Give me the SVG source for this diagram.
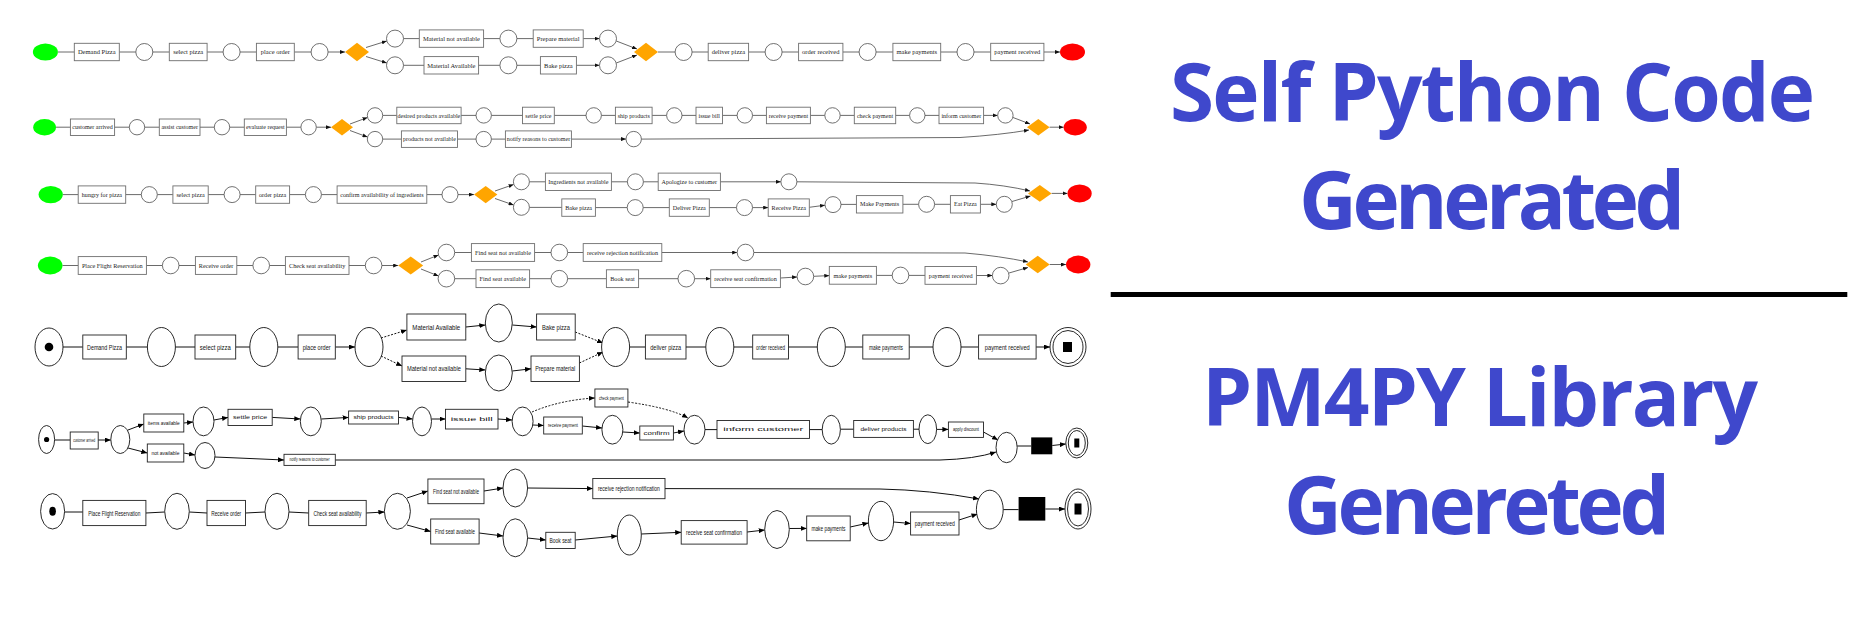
<svg xmlns="http://www.w3.org/2000/svg" width="1858" height="619" viewBox="0 0 1858 619">
<defs>
<style>
.pl{fill:#fff;stroke:#4d4d4d;stroke-width:0.8}
.tr{fill:#fff;stroke:#6e6e6e;stroke-width:0.9}
.gw{fill:#FFA500}
.st{fill:#00FF00}
.en{fill:#FF0000}
.lb{font-family:"Liberation Serif",serif;fill:#222;text-anchor:middle}
.r1 .lb{font-size:6.5px}.r2 .lb{font-size:6px}.r3 .lb{font-size:6.1px}.r4 .lb{font-size:6.2px}
.e{fill:none;stroke:#444;stroke-width:0.8;marker-end:url(#a)}
.pp{fill:#fff;stroke:#111;stroke-width:0.9}
.pt{fill:#fff;stroke:#222;stroke-width:0.9}
.pb{font-family:"Liberation Sans",sans-serif;font-size:7px;fill:#111;text-anchor:middle}
.sm{font-size:4.6px}
.f{fill:none;stroke:#111;stroke-width:1;marker-end:url(#b)}
.d{stroke-dasharray:2 1.5}
.big{font-family:"Open Sans",sans-serif;font-weight:bold;font-size:80px;fill:#3F48CC}
</style>
<marker id="a" markerUnits="userSpaceOnUse" markerWidth="5" markerHeight="4" refX="5" refY="2" orient="auto"><path d="M0,0L5,2L0,4z" fill="#111"/></marker>
<marker id="b" markerUnits="userSpaceOnUse" markerWidth="6" markerHeight="5" refX="6" refY="2.5" orient="auto"><path d="M0,0L6,2.5L0,5z" fill="#000"/></marker>
</defs>
<rect width="1858" height="619" fill="#fff"/>

<g id="connectors">
<!-- row 1 -->
<path class="e" d="M57.9,52H74.3M119.3,52H135.8M152.8,52H169.3M207.1,52H223.1M240.1,52H256.4M294.3,52H311.1M328.1,52H345"/>
<path class="e" d="M366,47.5L386.8,41"/><path class="e" d="M366,56.5L386.8,63"/>
<path class="e" d="M403.5,38.6H419.3M483.6,38.6H499.9M516.9,38.6H533.2M583.2,38.6H599.5"/>
<path class="e" d="M403.5,65.3H424M478.6,65.3H499.9M516.9,65.3H540.4M576.4,65.3H599.5"/>
<path class="e" d="M616.3,41L637,49"/><path class="e" d="M616.3,63L637,55"/>
<path class="e" d="M658,52H675.1M692.1,52H708.2M748.6,52H765.1M782.1,52H798.6M842.9,52H859.1M876.1,52H892.9M940.7,52H957M974,52H990.7M1043.9,52H1060"/>
<!-- row 2 -->
<path class="e" d="M56,127.2H70.4M114.6,127.2H129.3M144.7,127.2H159.3M200,127.2H214.3M229.7,127.2H244.3M286.4,127.2H300.9M316.3,127.2H331"/>
<path class="e" d="M350,124L367.5,117.5"/><path class="e" d="M350,130.5L367.5,137"/>
<path class="e" d="M382.7,115.4H396.8M461.1,115.4H476M491.4,115.4H522.5M554.3,115.4H586M601.4,115.4H615.4M652.1,115.4H666.6M682,115.4H696M722.5,115.4H737.1M752.5,115.4H766.4M810.4,115.4H824.8M840.2,115.4H854.3M895.7,115.4H909.6M925,115.4H939M983.6,115.4H997.7"/>
<path class="e" d="M382.7,139.1H401.4M457.5,139.1H476M491.4,139.1H505.4M571.4,139.1H626"/>
<path class="e" d="M1013,117.5L1030,124"/>
<path class="e" d="M641.4,139.1L960,137.5Q1000,135 1029,130"/>
<path class="e" d="M1049.6,127.2H1063.6"/>
<!-- row 3 -->
<path class="e" d="M62.8,194.6H78.2M125.7,194.6H141.3M157.3,194.6H172.9M208.2,194.6H224.1M240.1,194.6H255.7M289.6,194.6H305.4M321.4,194.6H337.1M426.8,194.6H442M458,194.6H474"/>
<path class="e" d="M495,191L513.6,184.5"/><path class="e" d="M495,198.5L513.6,205"/>
<path class="e" d="M529.4,181.8H545.4M611.4,181.8H627.4M643.4,181.8H658.2M720.4,181.8H780.9"/>
<path class="e" d="M796.9,181.8L975,183Q1005,185 1030,191"/>
<path class="e" d="M529.4,207.4H561.8M595.4,207.6H627.2M643.2,207.6H669.3M709.3,207.6H736.5M752.5,207.6H768.2"/>
<path class="e" d="M809.3,207.3L825,205.2"/>
<path class="e" d="M841,204.4H856.4M902.9,204.3H918.6M934.6,204.3H950.4M980.4,204.3H996.3"/>
<path class="e" d="M1012,201.5L1030.5,196"/>
<path class="e" d="M1051.6,193.4H1067.5"/>
<!-- row 4 -->
<path class="e" d="M62.5,265.5H78.2M146.4,265.5H162.4M179,265.5H195.4M236.8,265.5H252.9M269.5,265.5H285.4M349,265.5H365.3M381.9,265.5H398.2"/>
<path class="e" d="M421,262L438.5,255"/><path class="e" d="M421,269L438.5,276"/>
<path class="e" d="M454.7,252.5H471.4M534.6,252.5H551M567.6,252.5H583.2M661.8,252.5H737.2"/>
<path class="e" d="M454.7,278.7H476M529.6,278.7H551M567.6,278.7H606.4M638.6,278.7H678M694.6,278.7H710.7"/>
<path class="e" d="M753.8,252.5L965,253Q1000,256 1028,262"/>
<path class="e" d="M780.4,278L797.1,277"/><path class="e" d="M813.7,276.3L829.3,275.6"/>
<path class="e" d="M876.4,275.4H892.2M908.8,275.4H925M976.4,275.5H992.4"/>
<path class="e" d="M1009,273L1028,267.5"/>
<path class="e" d="M1049.7,264.5H1066"/>
<!-- pm4py row 1 -->
<path class="f" d="M63,347H82.8M126.3,347H147.4M175.4,347H195M235.7,347H249.8M277.8,347H298.1M335.3,347H355"/>
<path class="f d" d="M381,338L406.9,330"/><path class="f d" d="M381,356L402,366"/>
<path class="f" d="M465.8,327L485.3,325"/><path class="f" d="M465.8,368.8L485.3,370"/>
<path class="f" d="M512.3,325L536.6,327"/><path class="f" d="M512.3,371L531,368.8"/>
<path class="f d" d="M575.2,332L603,343"/><path class="f d" d="M579.4,363L603,352"/>
<path class="f" d="M629.6,347H645.4M686,347H705.8M733.8,347H752.7M788.5,347H817.3M845.3,347H862.8M909.2,347H933M961,347H978.6M1036.1,347H1050"/>
<!-- pm4py row 2 -->
<path class="f" d="M54.6,440H70.2M98.2,440H110.8"/>
<path class="f" d="M128,430L143.8,424"/><path class="f" d="M128,448L147.3,453"/>
<path class="f" d="M183.8,423L193,422"/><path class="f" d="M183.8,453L195,455"/>
<path class="f" d="M214,420L228,417.4"/><path class="f" d="M272.2,417.4L300.3,419"/>
<path class="f" d="M321.3,419L348.6,417.4"/><path class="f" d="M398.5,417.4L412.5,419"/>
<path class="f" d="M431.5,419H445.5"/><path class="f" d="M498,419L512,420"/>
<path class="f d" d="M532,412Q560,400 594.9,398"/>
<path class="f" d="M533,425L543.7,425.5"/><path class="f" d="M582.3,426L602,428"/>
<path class="f" d="M623,432L639.8,433"/><path class="f" d="M673.4,433L684,431"/>
<path class="f d" d="M627.9,402Q670,408 688,418"/>
<path class="f" d="M705,429.6H717M809.5,429.6H822.2M840.4,429.2H853.7M913.4,429.2H919M936.6,429.4H948.4"/>
<path class="f" d="M983.5,432L998,440"/>
<path class="f" d="M215,457L284,460"/>
<path class="f" d="M335.3,460L940,460Q975,459 996,452"/>
<path class="f" d="M1017.2,446H1031.2M1052.3,445.5L1065.8,444"/>
<!-- pm4py row 3 -->
<path class="f" d="M64.6,512H82.8M145.9,513L164.7,512M189.3,512L207,513M245.5,513L265,512M289,512L308.7,513M366.2,513L384.4,512"/>
<path class="f" d="M407,498L427.9,491"/><path class="f" d="M407,525L430.7,531.5"/>
<path class="f" d="M484,491L503,488"/><path class="f" d="M479.1,533L503,536"/>
<path class="f" d="M527.6,488L592.8,488.6"/>
<path class="f" d="M527.6,538L545.8,540"/><path class="f" d="M575.2,540L617.3,536"/>
<path class="f" d="M641.2,534L681.2,532.3"/><path class="f" d="M747.1,532L764.7,530"/>
<path class="f" d="M789.3,528.5L806.7,528.4"/><path class="f" d="M850.2,527L868.4,523"/>
<path class="f" d="M893.6,522L910.6,523.5"/><path class="f" d="M959,520L977.5,514"/>
<path class="f" d="M665,488.6L880,489Q930,490 979,499"/>
<path class="f" d="M1003.2,509.6H1018.6M1045.3,509H1065"/>
</g>

<!-- ================= Self Python row 1 ================= -->
<g class="r1">
<g id="r1-start"><ellipse class="st" cx="45.4" cy="52" rx="12.5" ry="8.6"/></g>
<g id="r1-demand"><rect class="tr" x="74.3" y="43.3" width="45" height="17.4"/><text class="lb" x="96.8" y="54.3">Demand Pizza</text></g>
<g id="r1-p1"><circle class="pl" cx="144.3" cy="52" r="8.5"/></g>
<g id="r1-select"><rect class="tr" x="169.3" y="43.3" width="37.8" height="17.4"/><text class="lb" x="188.2" y="54.3">select pizza</text></g>
<g id="r1-p2"><circle class="pl" cx="231.6" cy="52" r="8.5"/></g>
<g id="r1-place"><rect class="tr" x="256.4" y="43.3" width="37.9" height="17.4"/><text class="lb" x="275.35" y="54.3">place order</text></g>
<g id="r1-p3"><circle class="pl" cx="319.6" cy="52" r="8.5"/></g>
<g id="r1-x1"><polygon class="gw" points="345,52 357,42.7 369,52 357,61.3"/></g>
<g id="r1-p4"><circle class="pl" cx="395" cy="38.6" r="8.5"/></g>
<g id="r1-p5"><circle class="pl" cx="395" cy="65.3" r="8.5"/></g>
<g id="r1-matna"><rect class="tr" x="419.3" y="29.9" width="64.3" height="17.4"/><text class="lb" x="451.45" y="40.9">Material not available</text></g>
<g id="r1-mata"><rect class="tr" x="424" y="56.6" width="54.6" height="17.4"/><text class="lb" x="451.3" y="67.6">Material Available</text></g>
<g id="r1-p6"><circle class="pl" cx="508.4" cy="38.6" r="8.5"/></g>
<g id="r1-p7"><circle class="pl" cx="508.4" cy="65.3" r="8.5"/></g>
<g id="r1-prep"><rect class="tr" x="533.2" y="29.9" width="50" height="17.4"/><text class="lb" x="558.2" y="40.9">Prepare material</text></g>
<g id="r1-bake"><rect class="tr" x="540.4" y="56.6" width="36" height="17.4"/><text class="lb" x="558.4" y="67.6">Bake pizza</text></g>
<g id="r1-p8"><circle class="pl" cx="608" cy="38.6" r="8.5"/></g>
<g id="r1-p9"><circle class="pl" cx="608" cy="65.3" r="8.5"/></g>
<g id="r1-x2"><polygon class="gw" points="634,52 646,42.7 658,52 646,61.3"/></g>
<g id="r1-p10"><circle class="pl" cx="683.6" cy="52" r="8.5"/></g>
<g id="r1-deliver"><rect class="tr" x="708.2" y="43.3" width="40.4" height="17.4"/><text class="lb" x="728.4" y="54.3">deliver pizza</text></g>
<g id="r1-p11"><circle class="pl" cx="773.6" cy="52" r="8.5"/></g>
<g id="r1-order"><rect class="tr" x="798.6" y="43.3" width="44.3" height="17.4"/><text class="lb" x="820.75" y="54.3">order received</text></g>
<g id="r1-p12"><circle class="pl" cx="867.6" cy="52" r="8.5"/></g>
<g id="r1-pay"><rect class="tr" x="892.9" y="43.3" width="47.8" height="17.4"/><text class="lb" x="916.8" y="54.3">make payments</text></g>
<g id="r1-p13"><circle class="pl" cx="965.5" cy="52" r="8.5"/></g>
<g id="r1-payrec"><rect class="tr" x="990.7" y="43.3" width="53.2" height="17.4"/><text class="lb" x="1017.3" y="54.3">payment received</text></g>
<g id="r1-end"><ellipse class="en" cx="1072.5" cy="52" rx="12.5" ry="8.6"/></g>
</g>

<!-- ================= Self Python row 2 ================= -->
<g class="r2">
<g id="r2-start"><ellipse class="st" cx="44.6" cy="127.2" rx="11.4" ry="8.2"/></g>
<g id="r2-arrived"><rect class="tr" x="70.4" y="119" width="44.2" height="16.5"/><text class="lb" x="92.5" y="129.4">customer arrived</text></g>
<g id="r2-p1"><circle class="pl" cx="137" cy="127.2" r="7.7"/></g>
<g id="r2-assist"><rect class="tr" x="159.3" y="119" width="40.7" height="16.5"/><text class="lb" x="179.65" y="129.4">assist customer</text></g>
<g id="r2-p2"><circle class="pl" cx="222" cy="127.2" r="7.7"/></g>
<g id="r2-eval"><rect class="tr" x="244.3" y="119" width="42.1" height="16.5"/><text class="lb" x="265.35" y="129.4">evaluate request</text></g>
<g id="r2-p3"><circle class="pl" cx="308.6" cy="127.2" r="7.7"/></g>
<g id="r2-x1"><polygon class="gw" points="331,127.2 342,119 353,127.2 342,135.4"/></g>
<g id="r2-p4"><circle class="pl" cx="375" cy="115.4" r="7.7"/></g>
<g id="r2-p5"><circle class="pl" cx="375" cy="139.1" r="7.7"/></g>
<g id="r2-desired"><rect class="tr" x="396.8" y="107.2" width="64.3" height="16.5"/><text class="lb" x="428.95" y="117.6">desired products available</text></g>
<g id="r2-notavail"><rect class="tr" x="401.4" y="130.9" width="56.1" height="16.5"/><text class="lb" x="429.45" y="141.3">products not available</text></g>
<g id="r2-p6"><circle class="pl" cx="483.7" cy="115.4" r="7.7"/></g>
<g id="r2-p7"><circle class="pl" cx="483.7" cy="139.1" r="7.7"/></g>
<g id="r2-settle"><rect class="tr" x="522.5" y="107.2" width="31.8" height="16.5"/><text class="lb" x="538.4" y="117.6">settle price</text></g>
<g id="r2-p8"><circle class="pl" cx="593.7" cy="115.4" r="7.7"/></g>
<g id="r2-ship"><rect class="tr" x="615.4" y="107.2" width="36.7" height="16.5"/><text class="lb" x="633.75" y="117.6">ship products</text></g>
<g id="r2-p9"><circle class="pl" cx="674.3" cy="115.4" r="7.7"/></g>
<g id="r2-bill"><rect class="tr" x="696" y="107.2" width="26.5" height="16.5"/><text class="lb" x="709.25" y="117.6">issue bill</text></g>
<g id="r2-p10"><circle class="pl" cx="744.8" cy="115.4" r="7.7"/></g>
<g id="r2-recv"><rect class="tr" x="766.4" y="107.2" width="44" height="16.5"/><text class="lb" x="788.4" y="117.6">receive payment</text></g>
<g id="r2-p11"><circle class="pl" cx="832.5" cy="115.4" r="7.7"/></g>
<g id="r2-check"><rect class="tr" x="854.3" y="107.2" width="41.4" height="16.5"/><text class="lb" x="875" y="117.6">check payment</text></g>
<g id="r2-p12"><circle class="pl" cx="917.3" cy="115.4" r="7.7"/></g>
<g id="r2-inform"><rect class="tr" x="939" y="107.2" width="44.6" height="16.5"/><text class="lb" x="961.3" y="117.6">inform customer</text></g>
<g id="r2-p13"><circle class="pl" cx="1005.4" cy="115.4" r="7.7"/></g>
<g id="r2-notify"><rect class="tr" x="505.4" y="130.9" width="66" height="16.5"/><text class="lb" x="538.4" y="141.3">notify reasons to customer</text></g>
<g id="r2-p14"><circle class="pl" cx="633.7" cy="139.1" r="7.7"/></g>
<g id="r2-x2"><polygon class="gw" points="1027,127.2 1038.3,119 1049.6,127.2 1038.3,135.4"/></g>
<g id="r2-end"><ellipse class="en" cx="1075.2" cy="127.2" rx="11.6" ry="8.2"/></g>
</g>

<!-- ================= Self Python row 3 ================= -->
<g class="r3">
<g id="r3-start"><ellipse class="st" cx="50.7" cy="194.6" rx="12.1" ry="8.6"/></g>
<g id="r3-hungry"><rect class="tr" x="78.2" y="185.9" width="47.5" height="17.4"/><text class="lb" x="101.95" y="196.7">hungry for pizza</text></g>
<g id="r3-p1"><circle class="pl" cx="149.3" cy="194.6" r="8"/></g>
<g id="r3-select"><rect class="tr" x="172.9" y="185.9" width="35.3" height="17.4"/><text class="lb" x="190.55" y="196.7">select pizza</text></g>
<g id="r3-p2"><circle class="pl" cx="232.1" cy="194.6" r="8"/></g>
<g id="r3-order"><rect class="tr" x="255.7" y="185.9" width="33.9" height="17.4"/><text class="lb" x="272.65" y="196.7">order pizza</text></g>
<g id="r3-p3"><circle class="pl" cx="313.4" cy="194.6" r="8"/></g>
<g id="r3-confirm"><rect class="tr" x="337.1" y="185.9" width="89.7" height="17.4"/><text class="lb" x="381.95" y="196.7">confirm availability of ingredients</text></g>
<g id="r3-p4"><circle class="pl" cx="450" cy="194.6" r="8"/></g>
<g id="r3-x1"><polygon class="gw" points="474,194.6 485.7,186 497.4,194.6 485.7,203.2"/></g>
<g id="r3-p5"><circle class="pl" cx="521.4" cy="181.8" r="8"/></g>
<g id="r3-p6"><circle class="pl" cx="521.4" cy="207.3" r="8"/></g>
<g id="r3-ingna"><rect class="tr" x="545.4" y="173.1" width="66" height="17.4"/><text class="lb" x="578.4" y="183.9">Ingredients not available</text></g>
<g id="r3-p7"><circle class="pl" cx="635.4" cy="181.8" r="8"/></g>
<g id="r3-apol"><rect class="tr" x="658.2" y="173.1" width="62.2" height="17.4"/><text class="lb" x="689.3" y="183.9">Apologize to customer</text></g>
<g id="r3-p8"><circle class="pl" cx="788.9" cy="181.8" r="8"/></g>
<g id="r3-bake"><rect class="tr" x="561.8" y="198.9" width="33.6" height="17.4"/><text class="lb" x="578.6" y="209.7">Bake pizza</text></g>
<g id="r3-p9"><circle class="pl" cx="635.2" cy="207.6" r="8"/></g>
<g id="r3-deliver"><rect class="tr" x="669.3" y="198.9" width="40" height="17.4"/><text class="lb" x="689.3" y="209.7">Deliver Pizza</text></g>
<g id="r3-p10"><circle class="pl" cx="744.5" cy="207.6" r="8"/></g>
<g id="r3-receive"><rect class="tr" x="768.2" y="198.9" width="41.1" height="17.4"/><text class="lb" x="788.75" y="209.7">Receive Pizza</text></g>
<g id="r3-p11"><circle class="pl" cx="833" cy="204.6" r="8"/></g>
<g id="r3-pay"><rect class="tr" x="856.4" y="195.6" width="46.5" height="17.4"/><text class="lb" x="879.65" y="206.4">Make Payments</text></g>
<g id="r3-p12"><circle class="pl" cx="926.6" cy="204.3" r="8"/></g>
<g id="r3-eat"><rect class="tr" x="950.4" y="195.6" width="30" height="17.4"/><text class="lb" x="965.4" y="206.4">Eat Pizza</text></g>
<g id="r3-p13"><circle class="pl" cx="1004.3" cy="204.3" r="8"/></g>
<g id="r3-x2"><polygon class="gw" points="1028,193.4 1039.8,185 1051.6,193.4 1039.8,201.8"/></g>
<g id="r3-end"><ellipse class="en" cx="1079.6" cy="193.4" rx="12.1" ry="9"/></g>
</g>

<!-- ================= Self Python row 4 ================= -->
<g class="r4">
<g id="r4-start"><ellipse class="st" cx="50.2" cy="265.5" rx="12.3" ry="8.9"/></g>
<g id="r4-placeflight"><rect class="tr" x="78.2" y="256.6" width="68.2" height="17.8"/><text class="lb" x="112.3" y="267.7">Place Flight Reservation</text></g>
<g id="r4-p1"><circle class="pl" cx="170.7" cy="265.5" r="8.3"/></g>
<g id="r4-recv"><rect class="tr" x="195.4" y="256.6" width="41.4" height="17.8"/><text class="lb" x="216.1" y="267.7">Receive order</text></g>
<g id="r4-p2"><circle class="pl" cx="261.2" cy="265.5" r="8.3"/></g>
<g id="r4-check"><rect class="tr" x="285.4" y="256.6" width="63.6" height="17.8"/><text class="lb" x="317.2" y="267.7">Check seat availability</text></g>
<g id="r4-p3"><circle class="pl" cx="373.6" cy="265.5" r="8.3"/></g>
<g id="r4-x1"><polygon class="gw" points="398.2,265.5 410.7,256.6 423.2,265.5 410.7,274.4"/></g>
<g id="r4-p4"><circle class="pl" cx="446.4" cy="252.5" r="8.3"/></g>
<g id="r4-p5"><circle class="pl" cx="446.4" cy="278.7" r="8.3"/></g>
<g id="r4-fsna"><rect class="tr" x="471.4" y="243.6" width="63.2" height="17.8"/><text class="lb" x="503" y="254.7">Find seat not available</text></g>
<g id="r4-fsa"><rect class="tr" x="476" y="269.8" width="53.6" height="17.8"/><text class="lb" x="502.8" y="280.9">Find seat available</text></g>
<g id="r4-p6"><circle class="pl" cx="559.3" cy="252.5" r="8.3"/></g>
<g id="r4-p7"><circle class="pl" cx="559.3" cy="278.7" r="8.3"/></g>
<g id="r4-reject"><rect class="tr" x="583.2" y="243.6" width="78.6" height="17.8"/><text class="lb" x="622.5" y="254.7">receive rejection notification</text></g>
<g id="r4-p8"><circle class="pl" cx="745.5" cy="252.5" r="8.3"/></g>
<g id="r4-book"><rect class="tr" x="606.4" y="269.8" width="32.2" height="17.8"/><text class="lb" x="622.5" y="280.9">Book seat</text></g>
<g id="r4-p9"><circle class="pl" cx="686.3" cy="278.7" r="8.3"/></g>
<g id="r4-conf"><rect class="tr" x="710.7" y="269.8" width="69.7" height="17.8"/><text class="lb" x="745.55" y="280.9">receive seat confirmation</text></g>
<g id="r4-p10"><circle class="pl" cx="805.4" cy="276.5" r="8.3"/></g>
<g id="r4-pay"><rect class="tr" x="829.3" y="266.4" width="47.1" height="17.8"/><text class="lb" x="852.85" y="277.5">make payments</text></g>
<g id="r4-p11"><circle class="pl" cx="900.5" cy="275.4" r="8.3"/></g>
<g id="r4-payrec"><rect class="tr" x="925" y="266.5" width="51.4" height="17.8"/><text class="lb" x="950.7" y="277.6">payment received</text></g>
<g id="r4-p12"><circle class="pl" cx="1000.7" cy="275.6" r="8.3"/></g>
<g id="r4-x2"><polygon class="gw" points="1025.7,264.5 1037.7,255.8 1049.7,264.5 1037.7,273.2"/></g>
<g id="r4-end"><ellipse class="en" cx="1078.2" cy="264.5" rx="12.2" ry="8.9"/></g>
</g>

<!-- ================= PM4PY row 1 ================= -->
<g id="m1-start"><ellipse class="pp" cx="49" cy="347" rx="14" ry="19"/><circle cx="49" cy="347" r="4.3" fill="#000"/></g>
<g id="m1-demand"><rect class="pt" x="82.8" y="335" width="43.5" height="24"/><text class="pb" x="104.5" y="349.5" textLength="35" lengthAdjust="spacingAndGlyphs">Demand Pizza</text></g>
<g id="m1-p1"><ellipse class="pp" cx="161.4" cy="347" rx="14" ry="19.5"/></g>
<g id="m1-select"><rect class="pt" x="195" y="335" width="40.7" height="24"/><text class="pb" x="215.3" y="349.5" textLength="31" lengthAdjust="spacingAndGlyphs">select pizza</text></g>
<g id="m1-p2"><ellipse class="pp" cx="263.8" cy="347" rx="14" ry="19.5"/></g>
<g id="m1-place"><rect class="pt" x="298.1" y="335" width="37.2" height="24"/><text class="pb" x="316.7" y="349.5" textLength="28" lengthAdjust="spacingAndGlyphs">place order</text></g>
<g id="m1-p3"><ellipse class="pp" cx="369" cy="347" rx="14" ry="19.5"/></g>
<g id="m1-mata"><rect class="pt" x="406.9" y="314" width="58.9" height="26"/><text class="pb" x="436.3" y="329.5" textLength="48" lengthAdjust="spacingAndGlyphs">Material Available</text></g>
<g id="m1-matna"><rect class="pt" x="402" y="356" width="63.8" height="25.5"/><text class="pb" x="433.9" y="371.3" textLength="54" lengthAdjust="spacingAndGlyphs">Material not available</text></g>
<g id="m1-p4"><ellipse class="pp" cx="498.8" cy="323" rx="13.5" ry="19"/></g>
<g id="m1-p5"><ellipse class="pp" cx="498.8" cy="373" rx="13.5" ry="18"/></g>
<g id="m1-bake"><rect class="pt" x="536.6" y="314" width="38.6" height="26"/><text class="pb" x="555.9" y="329.5" textLength="28" lengthAdjust="spacingAndGlyphs">Bake pizza</text></g>
<g id="m1-prep"><rect class="pt" x="531" y="356" width="48.4" height="25.5"/><text class="pb" x="555.2" y="371.3" textLength="40" lengthAdjust="spacingAndGlyphs">Prepare material</text></g>
<g id="m1-p6"><ellipse class="pp" cx="615.6" cy="347" rx="14" ry="19.5"/></g>
<g id="m1-deliver"><rect class="pt" x="645.4" y="335" width="40.6" height="24"/><text class="pb" x="665.7" y="349.5" textLength="31" lengthAdjust="spacingAndGlyphs">deliver pizza</text></g>
<g id="m1-p7"><ellipse class="pp" cx="719.8" cy="347" rx="14" ry="19.5"/></g>
<g id="m1-order"><rect class="pt" x="752.7" y="335" width="35.8" height="24"/><text class="pb" x="770.6" y="349.5" textLength="29" lengthAdjust="spacingAndGlyphs">order received</text></g>
<g id="m1-p8"><ellipse class="pp" cx="831.3" cy="347" rx="14" ry="19.5"/></g>
<g id="m1-pay"><rect class="pt" x="862.8" y="335" width="46.4" height="24"/><text class="pb" x="886" y="349.5" textLength="34" lengthAdjust="spacingAndGlyphs">make payments</text></g>
<g id="m1-p9"><ellipse class="pp" cx="947" cy="347" rx="14" ry="19.5"/></g>
<g id="m1-payrec"><rect class="pt" x="978.6" y="335" width="57.5" height="24"/><text class="pb" x="1007.3" y="349.5" textLength="45" lengthAdjust="spacingAndGlyphs">payment received</text></g>
<g id="m1-end"><ellipse class="pp" cx="1068" cy="347" rx="18" ry="19.5"/><ellipse class="pp" cx="1068" cy="347" rx="15" ry="16.5"/><rect x="1063" y="342" width="9" height="10" fill="#000"/></g>

<!-- ================= PM4PY row 2 ================= -->
<g id="m2-start"><ellipse class="pp" cx="46.6" cy="439.5" rx="8" ry="14"/><circle cx="46.6" cy="439.5" r="2.6" fill="#000"/></g>
<g id="m2-t1"><rect class="pt" x="70.2" y="432" width="28" height="17"/><text class="pb sm" x="84.2" y="442.3" textLength="22" lengthAdjust="spacingAndGlyphs">customer arrived</text></g>
<g id="m2-p1"><ellipse class="pp" cx="120.3" cy="439.5" rx="9.5" ry="14"/></g>
<g id="m2-t2"><rect class="pt" x="143.8" y="414" width="40" height="18"/><text class="pb sm" x="163.8" y="424.6" textLength="32" lengthAdjust="spacingAndGlyphs">items available</text></g>
<g id="m2-t3"><rect class="pt" x="147.3" y="444" width="36.5" height="18"/><text class="pb sm" x="165.5" y="454.6" textLength="28" lengthAdjust="spacingAndGlyphs">not available</text></g>
<g id="m2-p2"><ellipse class="pp" cx="203.5" cy="421.4" rx="10.5" ry="14.4"/></g>
<g id="m2-p3"><ellipse class="pp" cx="205" cy="455.5" rx="10" ry="13"/></g>
<g id="m2-t4"><rect class="pt" x="228" y="409.3" width="44.2" height="16.2"/><text class="pb sm" x="250.1" y="419" textLength="34" lengthAdjust="spacingAndGlyphs">settle price</text></g>
<g id="m2-p4"><ellipse class="pp" cx="310.8" cy="421.4" rx="10.5" ry="14.4"/></g>
<g id="m2-t5"><rect class="pt" x="348.6" y="411" width="49.9" height="13"/><text class="pb sm" x="373.5" y="419" textLength="40" lengthAdjust="spacingAndGlyphs">ship products</text></g>
<g id="m2-p5"><ellipse class="pp" cx="422" cy="421.4" rx="9.5" ry="14.4"/></g>
<g id="m2-t6"><rect class="pt" x="445.5" y="409.3" width="52.5" height="19.7"/><text class="pb sm" x="471.7" y="420.7" textLength="42" lengthAdjust="spacingAndGlyphs">issue bill</text></g>
<g id="m2-p6"><ellipse class="pp" cx="522.6" cy="421.4" rx="10.5" ry="14.4"/></g>
<g id="m2-t7"><rect class="pt" x="594.9" y="389" width="33" height="18"/><text class="pb sm" x="611.4" y="399.6" textLength="25" lengthAdjust="spacingAndGlyphs">check payment</text></g>
<g id="m2-t8"><rect class="pt" x="543.7" y="417" width="38.6" height="17"/><text class="pb sm" x="563" y="427.1" textLength="30" lengthAdjust="spacingAndGlyphs">receive payment</text></g>
<g id="m2-p7"><ellipse class="pp" cx="612.4" cy="429.7" rx="10.5" ry="14.4"/></g>
<g id="m2-t9"><rect class="pt" x="639.8" y="426" width="33.6" height="14"/><text class="pb sm" x="656.6" y="434.6" textLength="26" lengthAdjust="spacingAndGlyphs">confirm</text></g>
<g id="m2-p8"><ellipse class="pp" cx="694.5" cy="429.7" rx="10.5" ry="14.4"/></g>
<g id="m2-t10"><rect class="pt" x="717" y="420.5" width="92.5" height="17.9"/><text class="pb sm" x="763.2" y="431" textLength="80" lengthAdjust="spacingAndGlyphs">inform customer</text></g>
<g id="m2-p9"><ellipse class="pp" cx="831.3" cy="429.7" rx="9.1" ry="14.4"/></g>
<g id="m2-t11"><rect class="pt" x="853.7" y="420.5" width="59.7" height="16.9"/><text class="pb sm" x="883.5" y="430.5" textLength="46" lengthAdjust="spacingAndGlyphs">deliver products</text></g>
<g id="m2-p10"><ellipse class="pp" cx="927.8" cy="429.2" rx="8.8" ry="14.4"/></g>
<g id="m2-t12"><rect class="pt" x="948.4" y="422" width="35.1" height="15.4"/><text class="pb sm" x="966" y="431.3" textLength="26" lengthAdjust="spacingAndGlyphs">apply discount</text></g>
<g id="m2-t13"><rect class="pt" x="284" y="454.3" width="51.3" height="11.1"/><text class="pb sm" x="309.6" y="461.4" textLength="40" lengthAdjust="spacingAndGlyphs">notify reasons to customer</text></g>
<g id="m2-p11"><ellipse class="pp" cx="1006.6" cy="447.5" rx="10.6" ry="15.2"/></g>
<g id="m2-tau"><rect x="1031.2" y="437.4" width="21.1" height="16.9" fill="#000"/></g>
<g id="m2-end"><ellipse class="pp" cx="1076.8" cy="443" rx="11" ry="15"/><ellipse class="pp" cx="1076.8" cy="443" rx="8.5" ry="12.5"/><rect x="1074.3" y="438.5" width="5" height="9" fill="#000"/></g>

<!-- ================= PM4PY row 3 ================= -->
<g id="m3-start"><ellipse class="pp" cx="52.6" cy="511.3" rx="12" ry="17.7"/><ellipse cx="52.6" cy="511.3" rx="3.3" ry="4.5" fill="#000"/></g>
<g id="m3-place"><rect class="pt" x="82.8" y="500.4" width="63.1" height="25.2"/><text class="pb" x="114.3" y="515.5" textLength="52" lengthAdjust="spacingAndGlyphs">Place Flight Reservation</text></g>
<g id="m3-p1"><ellipse class="pp" cx="177" cy="511.3" rx="12.3" ry="18"/></g>
<g id="m3-recv"><rect class="pt" x="207" y="500.4" width="38.5" height="25.2"/><text class="pb" x="226.2" y="515.5" textLength="30" lengthAdjust="spacingAndGlyphs">Receive order</text></g>
<g id="m3-p2"><ellipse class="pp" cx="277" cy="511.3" rx="12" ry="18"/></g>
<g id="m3-check"><rect class="pt" x="308.7" y="500.4" width="57.5" height="25.2"/><text class="pb" x="337.4" y="515.5" textLength="48" lengthAdjust="spacingAndGlyphs">Check seat availability</text></g>
<g id="m3-p3"><ellipse class="pp" cx="397.4" cy="511.3" rx="13" ry="18"/></g>
<g id="m3-fsna"><rect class="pt" x="427.9" y="479" width="56.1" height="24.7"/><text class="pb" x="456" y="493.8" textLength="46" lengthAdjust="spacingAndGlyphs">Find seat not available</text></g>
<g id="m3-fsa"><rect class="pt" x="430.7" y="519" width="48.4" height="25"/><text class="pb" x="454.9" y="534" textLength="40" lengthAdjust="spacingAndGlyphs">Find seat available</text></g>
<g id="m3-p4"><ellipse class="pp" cx="515.3" cy="488" rx="12.3" ry="19"/></g>
<g id="m3-p5"><ellipse class="pp" cx="515.3" cy="537.8" rx="12.3" ry="19"/></g>
<g id="m3-reject"><rect class="pt" x="592.8" y="478.5" width="72.2" height="20.2"/><text class="pb" x="628.9" y="491" textLength="62" lengthAdjust="spacingAndGlyphs">receive rejection notification</text></g>
<g id="m3-book"><rect class="pt" x="545.8" y="532.3" width="29.4" height="16.2"/><text class="pb" x="560.5" y="542.8" textLength="22" lengthAdjust="spacingAndGlyphs">Book seat</text></g>
<g id="m3-p6"><ellipse class="pp" cx="629.3" cy="535" rx="12" ry="20"/></g>
<g id="m3-conf"><rect class="pt" x="681.2" y="520.6" width="65.9" height="23.5"/><text class="pb" x="714.1" y="534.8" textLength="56" lengthAdjust="spacingAndGlyphs">receive seat confirmation</text></g>
<g id="m3-p7"><ellipse class="pp" cx="777" cy="529.5" rx="12.3" ry="19"/></g>
<g id="m3-pay"><rect class="pt" x="806.7" y="516" width="43.5" height="24.8"/><text class="pb" x="828.4" y="530.8" textLength="34" lengthAdjust="spacingAndGlyphs">make payments</text></g>
<g id="m3-p8"><ellipse class="pp" cx="881" cy="521" rx="12.6" ry="19.7"/></g>
<g id="m3-payrec"><rect class="pt" x="910.6" y="512" width="48.4" height="23"/><text class="pb" x="934.8" y="525.8" textLength="40" lengthAdjust="spacingAndGlyphs">payment received</text></g>
<g id="m3-p9"><ellipse class="pp" cx="989.8" cy="509.6" rx="13.4" ry="19.4"/></g>
<g id="m3-tau"><rect x="1018.6" y="497" width="26.7" height="23.6" fill="#000"/></g>
<g id="m3-end"><ellipse class="pp" cx="1078" cy="509" rx="13" ry="20"/><ellipse class="pp" cx="1078" cy="509" rx="10.5" ry="17"/><rect x="1074.5" y="503.5" width="7" height="11" fill="#000"/></g>

<!-- ================= Right side titles ================= -->
<g id="titles">
<text class="big" x="1170" y="121" textLength="645">Self Python Code</text>
<text class="big" x="1299" y="229" textLength="386">Generated</text>
<rect id="divider" x="1110.7" y="292" width="736.6" height="5" fill="#000"/>
<text class="big" x="1202" y="426" textLength="556">PM4PY Library</text>
<text class="big" x="1284" y="534" textLength="386">Genereted</text>
</g>
</svg>
